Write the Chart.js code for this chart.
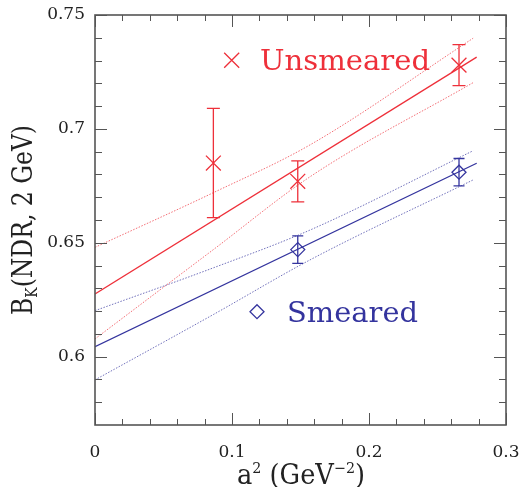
<!DOCTYPE html>
<html><head><meta charset="utf-8">
<script src="https://cdn.jsdelivr.net/npm/chart.js@4"></script>
<style>html,body{margin:0;padding:0;background:#fff}</style>
</head><body><canvas id="c" width="521" height="487" style="width:521px;height:487px;display:block"></canvas>
<script>
const xTicks=[0,0.1,0.2,0.3];
const xTickLabels=['0','0.1','0.2','0.3'];
const yTicks=[0.6,0.65,0.7,0.75];
const yTickLabels=['0.6','0.65','0.7','0.75'];
const unsmearedX=[0.0864,0.148,0.2657];
const unsmearedY=[0.685,0.677,0.728];
const unsmearedLo=[0.661,0.668,0.719];
const unsmearedHi=[0.709,0.686,0.737];
const smearedX=[0.148,0.2657];
const smearedY=[0.647,0.681];
const smearedLo=[0.641,0.675];
const smearedHi=[0.653,0.687];
const fitX=[0,0.2786];
const unsmearedFit=[0.6275,0.7315];
const smearedFit=[0.6044,0.6849];
const bandX=[0,0.0864,0.157,0.276];
const unsmearedBandHi=[0.648,0.672,0.693,0.7398];
const unsmearedBandLo=[0.6078,0.647,0.679,0.7203];
const smearedBandHi=[0.6202,0.639,0.6556,0.6904];
const smearedBandLo=[0.5898,0.6185,0.6425,0.6776];

const RED='rgb(238,48,58)', REDL='rgba(238,48,58,0.7)';
const BLUE='rgb(52,52,158)', BLUEL='rgba(52,52,158,0.7)';
const zip=(xs,ys)=>xs.map((x,i)=>({x:x,y:ys[i]}));
const lineDs=(xs,ys,c,dash,w)=>({type:'line',data:zip(xs,ys),borderColor:c,borderWidth:w,borderDash:dash,pointRadius:0,fill:false,cubicInterpolationMode:'monotone',showLine:true});

const decor={id:'decor',
 beforeDatasetsDraw(chart){
  const {ctx,chartArea:a,scales:{x,y}}=chart;
  ctx.save();
  const eb=(xs,lo,hi,c,hw)=>{ctx.strokeStyle=c;ctx.lineWidth=1.3;
   xs.forEach((v,i)=>{const px=x.getPixelForValue(v),pl=y.getPixelForValue(lo[i]),ph=y.getPixelForValue(hi[i]);
    ctx.beginPath();ctx.moveTo(px,pl);ctx.lineTo(px,ph);
    ctx.moveTo(px-hw,pl);ctx.lineTo(px+hw,pl);ctx.moveTo(px-hw,ph);ctx.lineTo(px+hw,ph);ctx.stroke();});};
  eb(unsmearedX,unsmearedLo,unsmearedHi,RED,6.5);
  eb(smearedX,smearedLo,smearedHi,BLUE,5.5);
  ctx.restore();
 },
 afterDraw(chart){
  const {ctx,chartArea:a,scales:{x,y}}=chart;
  ctx.save();
  ctx.strokeStyle='#555';ctx.lineWidth=1;
  ctx.beginPath();
  for(let v=0;v<=0.3001;v+=0.02){const px=Math.round(x.getPixelForValue(v))+0.5;const major=Math.abs(v*10-Math.round(v*10))<1e-6;const L=major?12:6;
   ctx.moveTo(px,a.bottom);ctx.lineTo(px,a.bottom-L);ctx.moveTo(px,a.top);ctx.lineTo(px,a.top+L);}
  for(let v=0.58;v<=0.7501;v+=0.01){const py=Math.round(y.getPixelForValue(v))+0.5;const major=Math.abs(v*20-Math.round(v*20))<1e-6;const L=major?12:7;
   ctx.moveTo(a.left,py);ctx.lineTo(a.left+L,py);ctx.moveTo(a.right,py);ctx.lineTo(a.right-L,py);}
  ctx.stroke();
  ctx.lineWidth=1.6;ctx.strokeRect(a.left,a.top,a.right-a.left,a.bottom-a.top);
  const fit=(t,px,py,font,w)=>{ctx.font=font;const m=ctx.measureText(t).width;ctx.save();ctx.translate(px,py);ctx.scale(w/m,1);ctx.fillText(t,0,0);ctx.restore();};
  ctx.textBaseline='alphabetic';ctx.textAlign='left';
  ctx.fillStyle=RED;fit('Unsmeared',260,70,'27px "DejaVu Serif"',170);
  ctx.fillStyle=BLUE;fit('Smeared',287,322,'27px "DejaVu Serif"',131);
  ctx.lineWidth=1.3;
  ctx.strokeStyle=RED;ctx.beginPath();ctx.moveTo(224.2,52.8);ctx.lineTo(239.2,67.8);ctx.moveTo(224.2,67.8);ctx.lineTo(239.2,52.8);ctx.stroke();
  ctx.strokeStyle=BLUE;ctx.beginPath();ctx.moveTo(257,304.7);ctx.lineTo(264,311.7);ctx.lineTo(257,318.7);ctx.lineTo(250,311.7);ctx.closePath();ctx.stroke();
  ctx.fillStyle='#222';
  const parts=(arr,total)=>{let w=0;arr.forEach(p=>{ctx.font=p.f;p.w=ctx.measureText(p.t).width;w+=p.w;});const s=total/w;ctx.scale(s,1);let cx=0;arr.forEach(p=>{ctx.font=p.f;ctx.fillText(p.t,cx,p.dy);cx+=p.w;});};
  ctx.save();ctx.translate(32,315);ctx.rotate(-Math.PI/2);
  parts([{t:'B',f:'27px "DejaVu Serif"',dy:0},{t:'K',f:'16px "DejaVu Serif"',dy:5},{t:'(NDR, 2 GeV)',f:'27px "DejaVu Serif"',dy:0}],190);
  ctx.restore();
  ctx.save();ctx.translate(237,484);
  parts([{t:'a',f:'27px "DejaVu Serif"',dy:0},{t:'2',f:'15px "DejaVu Serif"',dy:-11},{t:' (GeV',f:'27px "DejaVu Serif"',dy:0},{t:'\u22122',f:'15px "DejaVu Serif"',dy:-11},{t:')',f:'27px "DejaVu Serif"',dy:0}],128);
  ctx.restore();
  ctx.restore();
 }};

new Chart(document.getElementById('c'),{
 type:'scatter',
 data:{datasets:[
  lineDs(bandX,unsmearedBandHi,REDL,[1.5,1.5],1),
  lineDs(bandX,unsmearedBandLo,REDL,[1.5,1.5],1),
  lineDs(fitX,unsmearedFit,RED,[],1.3),
  lineDs(bandX,smearedBandHi,BLUEL,[1.5,1.5],1),
  lineDs(bandX,smearedBandLo,BLUEL,[1.5,1.5],1),
  lineDs(fitX,smearedFit,BLUE,[],1.3),
  {type:'scatter',data:zip(unsmearedX,unsmearedY),pointStyle:'crossRot',pointRadius:10.5,borderColor:RED,backgroundColor:RED,borderWidth:1.3},
  {type:'scatter',data:zip(smearedX,smearedY),pointStyle:'rectRot',pointRadius:7,borderColor:BLUE,backgroundColor:'rgba(0,0,0,0)',borderWidth:1.3}
 ]},
 options:{responsive:false,animation:false,devicePixelRatio:1,
  layout:{padding:{top:15,right:15,left:0,bottom:0}},
  plugins:{legend:{display:false},tooltip:{enabled:false}},
  scales:{
   x:{type:'linear',min:0,max:0.3,
    afterBuildTicks:s=>{s.ticks=xTicks.map(v=>({value:v}));},
    afterFit:s=>{s.height=62;s.paddingLeft=0;s.paddingRight=0;},
    grid:{display:false,drawTicks:false},border:{display:false},
    ticks:{padding:17,color:'#222',font:{family:'DejaVu Serif',size:17},callback:(v)=>xTickLabels[xTicks.findIndex(t=>Math.abs(t-v)<1e-9)]}},
   y:{type:'linear',min:0.57,max:0.75,
    afterBuildTicks:s=>{s.ticks=yTicks.map(v=>({value:v}));},
    afterFit:s=>{s.width=95;s.paddingTop=0;s.paddingBottom=0;},
    grid:{display:false,drawTicks:false},border:{display:false},
    ticks:{padding:10,color:'#222',font:{family:'DejaVu Serif',size:17},callback:(v)=>yTickLabels[yTicks.findIndex(t=>Math.abs(t-v)<1e-9)]}}
  }},
 plugins:[decor]
});
</script></body></html>
